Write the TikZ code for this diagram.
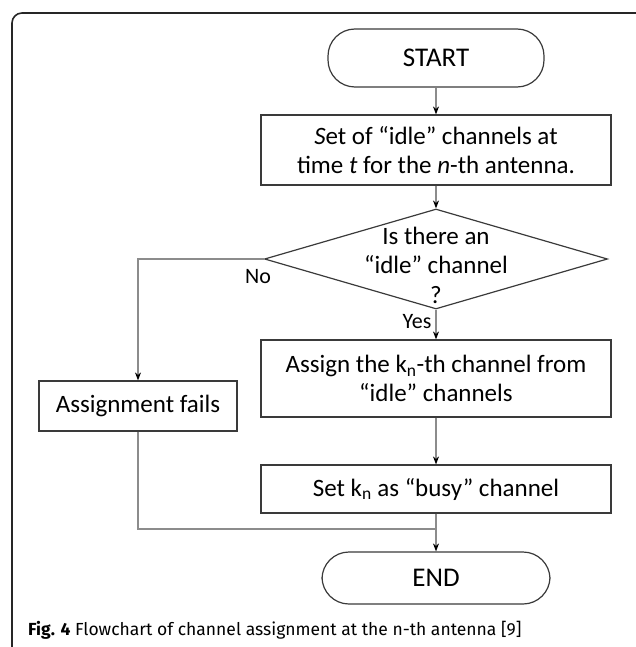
\documentclass[tikz,border=0pt]{standalone}
\usepackage{fontspec}
\setmainfont{Carlito}
\newfontfamily\capfont{Fira Sans}
\usetikzlibrary{shapes.geometric,arrows.meta}
\definecolor{edgegray}{HTML}{8C8C8C}
\definecolor{boxline}{HTML}{3A3A3A}
\begin{document}
\begin{tikzpicture}[x=1pt,y=-1pt,
  every node/.style={font=\fontsize{25}{29.5}\selectfont},
  procbox/.style={draw=boxline,line width=1.2pt,rectangle,minimum width=350pt,inner sep=0pt,align=center},
  termbox/.style={draw=boxline,line width=1.2pt,rectangle,rounded corners=27pt,inner sep=0pt,align=center,font=\fontsize{27}{30}\selectfont},
  conn/.style={draw=edgegray,line width=1.1pt},
  arr/.style={conn,-{Stealth[length=8pt,width=6pt,color=black]}},
  lbl/.style={font=\fontsize{22}{25}\selectfont,inner sep=0pt}
]
\useasboundingbox (0,0) rectangle (635,647);
\draw[line width=1.6pt,black!85,rounded corners=10pt] (12,13) rectangle (665,662);

\node[termbox,minimum width=216pt,minimum height=58pt] (start) at (436,58) {START};
\node[procbox,minimum height=70pt] (b1) at (436,150) {\textit{S}et of “idle” channels at\\time \textit{t} for the \textit{n}-th antenna.};
\node[diamond,draw=boxline,line width=1.2pt,minimum width=343pt,minimum height=100pt,inner sep=0pt] (d) at (436,259) {};
\node[align=center,inner sep=0pt] (dtext) at (436,265) {Is there an\\“idle” channel\\?};
\node[procbox,minimum height=77pt] (b2) at (436,378.5) {Assign the k\textsubscript{n}-th channel from\\“idle” channels};
\node[procbox,minimum width=198pt,minimum height=50pt] (fail) at (138,406) {Assignment fails};
\node[procbox,minimum height=48pt] (b3) at (436,489) {Set k\textsubscript{n} as “busy” channel};
\node[termbox,minimum width=228pt,minimum height=52pt] (end) at (436,578) {END};
\coordinate (merge) at (436,529);

\draw[arr] (start) -- (b1);
\draw[arr] (b1) -- (d.north);
\draw[arr] (d.south) -- (b2);
\draw[arr] (d.west) -| (fail.north);
\draw[arr] (b2) -- (b3);
\draw[arr] (b3) -- (end);
\draw[conn] (fail.south) |- (merge);

\node[lbl] (no) at (258,277) {No};
\node[lbl] (yes) at (417,322) {Yes};

\node[anchor=west,inner sep=0pt,font=\capfont\fontsize{17.5}{20}\selectfont] (cap) at (28,630) {\textbf{Fig. 4} Flowchart of channel assignment at the n-th antenna [9]};
\end{tikzpicture}
\end{document}
